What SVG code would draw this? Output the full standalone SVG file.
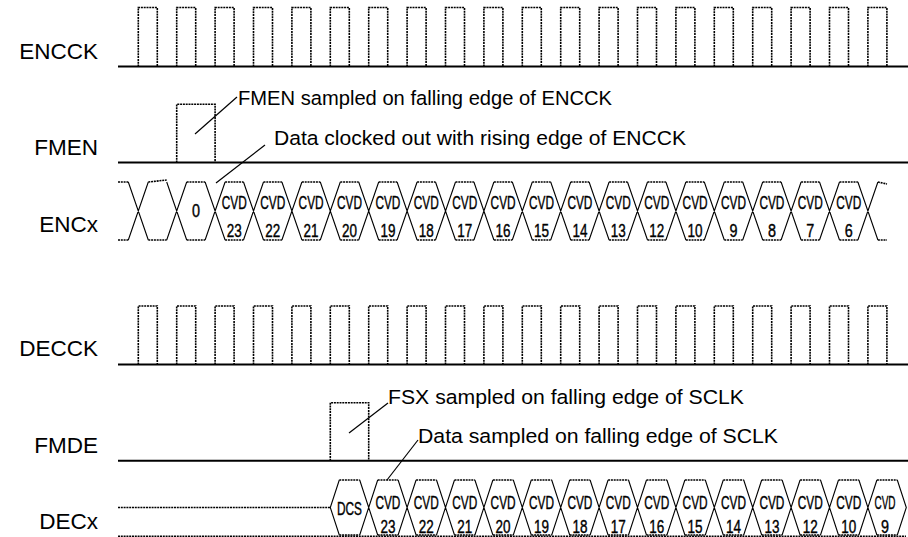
<svg xmlns="http://www.w3.org/2000/svg" width="908" height="537" viewBox="0 0 908 537">
<style>
.lbl{font-family:"Liberation Sans",Arial,sans-serif;font-size:22.5px;fill:#000;text-anchor:end}
.note{font-family:"Liberation Sans",Arial,sans-serif;font-size:20.5px;fill:#000}
.cell{font-family:"Liberation Sans Narrow","Liberation Sans",Arial,sans-serif;font-size:18px;fill:#000;stroke:#000;stroke-width:0.4;text-anchor:middle}
.base{stroke:#000;stroke-width:2;fill:none}
.dot{stroke:#000;stroke-width:1.6;stroke-dasharray:2 0.8;fill:none}
.diag{stroke:#000;stroke-width:1.1;fill:none}
.lead{stroke:#000;stroke-width:1.2;fill:none}
</style>
<rect width="908" height="537" fill="#fff"/>

<g id="encck">
<text class="lbl" x="98" y="59">ENCCK</text>
<line class="base" x1="118" y1="66.5" x2="908" y2="66.5"/>
<path class="dot" d="M138.3 66.5V7.5H157.3V66.5M176.7 66.5V7.5H195.7V66.5M215.1 66.5V7.5H234.1V66.5M253.5 66.5V7.5H272.5V66.5M291.9 66.5V7.5H310.9V66.5M330.3 66.5V7.5H349.3V66.5M368.7 66.5V7.5H387.7V66.5M407.1 66.5V7.5H426.1V66.5M445.5 66.5V7.5H464.5V66.5M483.9 66.5V7.5H502.9V66.5M522.3 66.5V7.5H541.3V66.5M560.7 66.5V7.5H579.7V66.5M599.1 66.5V7.5H618.1V66.5M637.5 66.5V7.5H656.5V66.5M675.9 66.5V7.5H694.9V66.5M714.3 66.5V7.5H733.3V66.5M752.7 66.5V7.5H771.7V66.5M791.1 66.5V7.5H810.1V66.5M829.5 66.5V7.5H848.5V66.5M867.9 66.5V7.5H886.9V66.5"/>
</g>

<g id="fmen">
<text class="lbl" x="98" y="155">FMEN</text>
<line class="base" x1="118" y1="162.5" x2="908" y2="162.5"/>
<path class="dot" d="M176.7 162.5V104.3H215.1V162.5"/>
</g>

<g id="encx">
<text class="lbl" x="98" y="231.5">ENCx</text>
<path class="dot" d="M118 182H128.3M148.3 182L166.7 180M186.7 182H205.1M225.1 182H243.5M263.5 182H281.9M301.9 182H320.3M340.3 182H358.7M378.7 182H397.1M417.1 182H435.5M455.5 182H473.9M493.9 182H512.3M532.3 182H550.7M570.7 182H589.1M609.1 182H627.5M647.5 182H665.9M685.9 182H704.3M724.3 182H742.7M762.7 182H781.1M801.1 182H819.5M839.5 182H857.9M877.9 182L887 184"/>
<path class="dot" d="M118 240H128.3M148.3 240H166.7M186.7 240H205.1M225.1 240H243.5M263.5 240H281.9M301.9 240H320.3M340.3 240H358.7M378.7 240H397.1M417.1 240H435.5M455.5 240H473.9M493.9 240H512.3M532.3 240H550.7M570.7 240H589.1M609.1 240H627.5M647.5 240H665.9M685.9 240H704.3M724.3 240H742.7M762.7 240H781.1M801.1 240H819.5M839.5 240H857.9M877.9 240H887"/>
<path class="diag" d="M128.3 182L148.3 240M128.3 240L148.3 182M166.7 182L186.7 240M166.7 240L186.7 182M205.1 182L225.1 240M205.1 240L225.1 182M243.5 182L263.5 240M243.5 240L263.5 182M281.9 182L301.9 240M281.9 240L301.9 182M320.3 182L340.3 240M320.3 240L340.3 182M358.7 182L378.7 240M358.7 240L378.7 182M397.1 182L417.1 240M397.1 240L417.1 182M435.5 182L455.5 240M435.5 240L455.5 182M473.9 182L493.9 240M473.9 240L493.9 182M512.3 182L532.3 240M512.3 240L532.3 182M550.7 182L570.7 240M550.7 240L570.7 182M589.1 182L609.1 240M589.1 240L609.1 182M627.5 182L647.5 240M627.5 240L647.5 182M665.9 182L685.9 240M665.9 240L685.9 182M704.3 182L724.3 240M704.3 240L724.3 182M742.7 182L762.7 240M742.7 240L762.7 182M781.1 182L801.1 240M781.1 240L801.1 182M819.5 182L839.5 240M819.5 240L839.5 182M857.9 182L877.9 240M857.9 240L877.9 182"/>
<g class="cell">
<text x="195.9" y="217" textLength="8" lengthAdjust="spacingAndGlyphs">0</text>
<text x="234.3" y="208.5" textLength="25" lengthAdjust="spacingAndGlyphs">CVD</text><text x="234.3" y="237" textLength="15" lengthAdjust="spacingAndGlyphs">23</text>
<text x="272.7" y="208.5" textLength="25" lengthAdjust="spacingAndGlyphs">CVD</text><text x="272.7" y="237" textLength="15" lengthAdjust="spacingAndGlyphs">22</text>
<text x="311.1" y="208.5" textLength="25" lengthAdjust="spacingAndGlyphs">CVD</text><text x="311.1" y="237" textLength="15" lengthAdjust="spacingAndGlyphs">21</text>
<text x="349.5" y="208.5" textLength="25" lengthAdjust="spacingAndGlyphs">CVD</text><text x="349.5" y="237" textLength="15" lengthAdjust="spacingAndGlyphs">20</text>
<text x="387.9" y="208.5" textLength="25" lengthAdjust="spacingAndGlyphs">CVD</text><text x="387.9" y="237" textLength="15" lengthAdjust="spacingAndGlyphs">19</text>
<text x="426.3" y="208.5" textLength="25" lengthAdjust="spacingAndGlyphs">CVD</text><text x="426.3" y="237" textLength="15" lengthAdjust="spacingAndGlyphs">18</text>
<text x="464.7" y="208.5" textLength="25" lengthAdjust="spacingAndGlyphs">CVD</text><text x="464.7" y="237" textLength="15" lengthAdjust="spacingAndGlyphs">17</text>
<text x="503.1" y="208.5" textLength="25" lengthAdjust="spacingAndGlyphs">CVD</text><text x="503.1" y="237" textLength="15" lengthAdjust="spacingAndGlyphs">16</text>
<text x="541.5" y="208.5" textLength="25" lengthAdjust="spacingAndGlyphs">CVD</text><text x="541.5" y="237" textLength="15" lengthAdjust="spacingAndGlyphs">15</text>
<text x="579.9" y="208.5" textLength="25" lengthAdjust="spacingAndGlyphs">CVD</text><text x="579.9" y="237" textLength="15" lengthAdjust="spacingAndGlyphs">14</text>
<text x="618.3" y="208.5" textLength="25" lengthAdjust="spacingAndGlyphs">CVD</text><text x="618.3" y="237" textLength="15" lengthAdjust="spacingAndGlyphs">13</text>
<text x="656.7" y="208.5" textLength="25" lengthAdjust="spacingAndGlyphs">CVD</text><text x="656.7" y="237" textLength="15" lengthAdjust="spacingAndGlyphs">12</text>
<text x="695.1" y="208.5" textLength="25" lengthAdjust="spacingAndGlyphs">CVD</text><text x="695.1" y="237" textLength="15" lengthAdjust="spacingAndGlyphs">10</text>
<text x="733.5" y="208.5" textLength="25" lengthAdjust="spacingAndGlyphs">CVD</text><text x="733.5" y="237" textLength="8" lengthAdjust="spacingAndGlyphs">9</text>
<text x="771.9" y="208.5" textLength="25" lengthAdjust="spacingAndGlyphs">CVD</text><text x="771.9" y="237" textLength="8" lengthAdjust="spacingAndGlyphs">8</text>
<text x="810.3" y="208.5" textLength="25" lengthAdjust="spacingAndGlyphs">CVD</text><text x="810.3" y="237" textLength="8" lengthAdjust="spacingAndGlyphs">7</text>
<text x="848.7" y="208.5" textLength="25" lengthAdjust="spacingAndGlyphs">CVD</text><text x="848.7" y="237" textLength="8" lengthAdjust="spacingAndGlyphs">6</text>
</g>
</g>

<g id="decck">
<text class="lbl" x="98" y="356">DECCK</text>
<line class="base" x1="118" y1="364.5" x2="908" y2="364.5"/>
<path class="dot" d="M138.3 364.5V306H157.3V364.5M176.7 364.5V306H195.7V364.5M215.1 364.5V306H234.1V364.5M253.5 364.5V306H272.5V364.5M291.9 364.5V306H310.9V364.5M330.3 364.5V306H349.3V364.5M368.7 364.5V306H387.7V364.5M407.1 364.5V306H426.1V364.5M445.5 364.5V306H464.5V364.5M483.9 364.5V306H502.9V364.5M522.3 364.5V306H541.3V364.5M560.7 364.5V306H579.7V364.5M599.1 364.5V306H618.1V364.5M637.5 364.5V306H656.5V364.5M675.9 364.5V306H694.9V364.5M714.3 364.5V306H733.3V364.5M752.7 364.5V306H771.7V364.5M791.1 364.5V306H810.1V364.5M829.5 364.5V306H848.5V364.5M867.9 364.5V306H886.9V364.5"/>
</g>

<g id="fmde">
<text class="lbl" x="98" y="453">FMDE</text>
<line class="base" x1="118" y1="460.7" x2="908" y2="460.7"/>
<path class="dot" d="M330.3 460.7V402.7H368.7V460.7"/>
</g>

<g id="decx">
<text class="lbl" x="98" y="528.5">DECx</text>
<path class="dot" d="M118 507.5H330.3"/>
<path class="dot" d="M118 536.2H906" stroke-width="1"/>
<path class="dot" d="M339.3 480H359.7M377.7 480H398.1M416.1 480H436.5M454.5 480H474.9M492.9 480H513.3M531.3 480H551.7M569.7 480H590.1M608.1 480H628.5M646.5 480H666.9M684.9 480H705.3M723.3 480H743.7M761.7 480H782.1M800.1 480H820.5M838.5 480H858.9M876.9 480H897.3"/>
<path class="dot" d="M339.3 535H359.7M377.7 535H398.1M416.1 535H436.5M454.5 535H474.9M492.9 535H513.3M531.3 535H551.7M569.7 535H590.1M608.1 535H628.5M646.5 535H666.9M684.9 535H705.3M723.3 535H743.7M761.7 535H782.1M800.1 535H820.5M838.5 535H858.9M876.9 535H897.3"/>
<path class="diag" d="M339.3 480L330.3 507.5L339.3 535M897.3 480L906.3 507.5L897.3 535M359.7 480L377.7 535M359.7 535L377.7 480M398.1 480L416.1 535M398.1 535L416.1 480M436.5 480L454.5 535M436.5 535L454.5 480M474.9 480L492.9 535M474.9 535L492.9 480M513.3 480L531.3 535M513.3 535L531.3 480M551.7 480L569.7 535M551.7 535L569.7 480M590.1 480L608.1 535M590.1 535L608.1 480M628.5 480L646.5 535M628.5 535L646.5 480M666.9 480L684.9 535M666.9 535L684.9 480M705.3 480L723.3 535M705.3 535L723.3 480M743.7 480L761.7 535M743.7 535L761.7 480M782.1 480L800.1 535M782.1 535L800.1 480M820.5 480L838.5 535M820.5 535L838.5 480M858.9 480L876.9 535M858.9 535L876.9 480"/>
<g class="cell">
<text x="349.5" y="514.5" textLength="25" lengthAdjust="spacingAndGlyphs">DCS</text>
<text x="387.9" y="509" textLength="25" lengthAdjust="spacingAndGlyphs">CVD</text><text x="387.9" y="533" textLength="15" lengthAdjust="spacingAndGlyphs">23</text>
<text x="426.3" y="509" textLength="25" lengthAdjust="spacingAndGlyphs">CVD</text><text x="426.3" y="533" textLength="15" lengthAdjust="spacingAndGlyphs">22</text>
<text x="464.7" y="509" textLength="25" lengthAdjust="spacingAndGlyphs">CVD</text><text x="464.7" y="533" textLength="15" lengthAdjust="spacingAndGlyphs">21</text>
<text x="503.1" y="509" textLength="25" lengthAdjust="spacingAndGlyphs">CVD</text><text x="503.1" y="533" textLength="15" lengthAdjust="spacingAndGlyphs">20</text>
<text x="541.5" y="509" textLength="25" lengthAdjust="spacingAndGlyphs">CVD</text><text x="541.5" y="533" textLength="15" lengthAdjust="spacingAndGlyphs">19</text>
<text x="579.9" y="509" textLength="25" lengthAdjust="spacingAndGlyphs">CVD</text><text x="579.9" y="533" textLength="15" lengthAdjust="spacingAndGlyphs">18</text>
<text x="618.3" y="509" textLength="25" lengthAdjust="spacingAndGlyphs">CVD</text><text x="618.3" y="533" textLength="15" lengthAdjust="spacingAndGlyphs">17</text>
<text x="656.7" y="509" textLength="25" lengthAdjust="spacingAndGlyphs">CVD</text><text x="656.7" y="533" textLength="15" lengthAdjust="spacingAndGlyphs">16</text>
<text x="695.1" y="509" textLength="25" lengthAdjust="spacingAndGlyphs">CVD</text><text x="695.1" y="533" textLength="15" lengthAdjust="spacingAndGlyphs">15</text>
<text x="733.5" y="509" textLength="25" lengthAdjust="spacingAndGlyphs">CVD</text><text x="733.5" y="533" textLength="15" lengthAdjust="spacingAndGlyphs">14</text>
<text x="771.9" y="509" textLength="25" lengthAdjust="spacingAndGlyphs">CVD</text><text x="771.9" y="533" textLength="15" lengthAdjust="spacingAndGlyphs">13</text>
<text x="810.3" y="509" textLength="25" lengthAdjust="spacingAndGlyphs">CVD</text><text x="810.3" y="533" textLength="15" lengthAdjust="spacingAndGlyphs">12</text>
<text x="848.7" y="509" textLength="25" lengthAdjust="spacingAndGlyphs">CVD</text><text x="848.7" y="533" textLength="15" lengthAdjust="spacingAndGlyphs">10</text>
<text x="885" y="509" textLength="21" lengthAdjust="spacingAndGlyphs">CVD</text><text x="885" y="533" textLength="8" lengthAdjust="spacingAndGlyphs">9</text>
</g>
</g>

<g id="notes">
<text class="note" x="238" y="105" textLength="374" lengthAdjust="spacingAndGlyphs">FMEN sampled on falling edge of ENCCK</text>
<text class="note" x="274" y="145" textLength="412" lengthAdjust="spacingAndGlyphs">Data clocked out with rising edge of ENCCK</text>
<text class="note" x="388" y="404" textLength="356" lengthAdjust="spacingAndGlyphs">FSX sampled on falling edge of SCLK</text>
<text class="note" x="418" y="443" textLength="360" lengthAdjust="spacingAndGlyphs">Data sampled on falling edge of SCLK</text>
</g>

<g id="connectors">
<line class="lead" x1="195" y1="134" x2="237" y2="97"/>
<line class="lead" x1="216" y1="183" x2="265" y2="145"/>
<line class="lead" x1="349" y1="433" x2="388" y2="403"/>
<line class="lead" x1="387" y1="480" x2="418" y2="440"/>
</g>
</svg>
